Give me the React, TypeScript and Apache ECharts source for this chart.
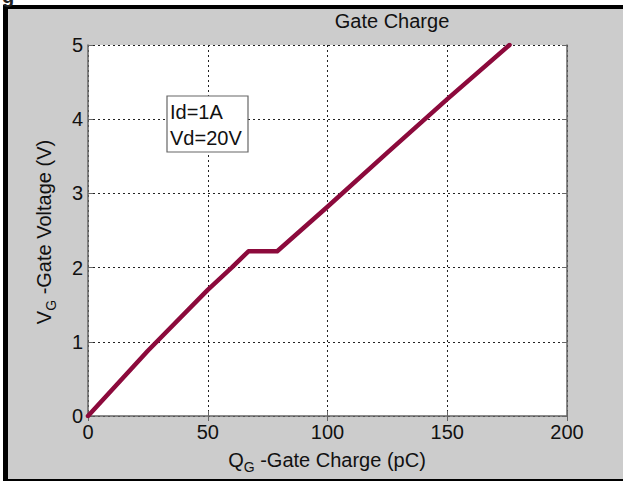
import React, { useEffect, useRef } from "react";
import * as echarts from "echarts";

const chargePC = [0, 25, 50, 60, 67, 79, 100, 125, 150, 176];
const gateVoltage = [0, 0.88, 1.7, 2.0, 2.22, 2.22, 2.82, 3.55, 4.27, 5.0];
const xTicks = [0, 200, 50];
const yTicks = [0, 5, 1];
const titleText = "Gate Charge";
const noteLines = ["Id=1A", "Vd=20V"];

const FONT = "Liberation Sans, Arial, sans-serif";
const FS = 20;

export default function App() {
  const ref = useRef<HTMLDivElement>(null);
  useEffect(() => {
    if (!ref.current) return;
    const chart = echarts.init(ref.current, undefined, { renderer: "svg" });
    const data = chargePC.map((x, i) => [x, gateVoltage[i]]);
    const gridLine = { show: true, lineStyle: { color: "#222", type: [2, 3], width: 1 } };
    chart.setOption({
      animation: false,
      backgroundColor: "#ffffff",
      grid: {
        left: 88,
        right: 56,
        top: 45,
        bottom: 66,
        show: true,
        backgroundColor: "#ffffff",
        borderWidth: 0,
      },
      xAxis: [
        {
          type: "value",
          min: xTicks[0],
          max: xTicks[1],
          interval: xTicks[2],
          position: "bottom",
          axisLine: { show: true, onZero: false, lineStyle: { color: "#666", width: 1.5 } },
          axisTick: { show: true, inside: true, length: 5, lineStyle: { color: "#666" } },
          axisLabel: { color: "#111", fontSize: FS, fontFamily: FONT, margin: 6 },
          splitLine: gridLine,
        },
        {
          type: "value",
          min: xTicks[0],
          max: xTicks[1],
          interval: xTicks[2],
          position: "top",
          axisLine: { show: false },
          axisTick: { show: true, inside: true, length: 5, lineStyle: { color: "#666" } },
          axisLabel: { show: false },
          splitLine: { show: false },
        },
      ],
      yAxis: [
        {
          type: "value",
          min: yTicks[0],
          max: yTicks[1],
          interval: yTicks[2],
          position: "left",
          axisLine: { show: true, onZero: false, lineStyle: { color: "#666", width: 1.5 } },
          axisTick: { show: true, inside: true, length: 5, lineStyle: { color: "#666" } },
          axisLabel: { color: "#111", fontSize: FS, fontFamily: FONT, margin: 5 },
          splitLine: gridLine,
        },
        {
          type: "value",
          min: yTicks[0],
          max: yTicks[1],
          interval: yTicks[2],
          position: "right",
          axisLine: { show: true, onZero: false, lineStyle: { color: "#666", width: 1.5 } },
          axisTick: { show: true, inside: true, length: 5, lineStyle: { color: "#666" } },
          axisLabel: { show: false },
          splitLine: { show: false },
        },
      ],
      series: [
        {
          type: "line",
          data,
          showSymbol: false,
          symbol: "none",
          lineStyle: { color: "#8c0a3c", width: 4.5, join: "round", cap: "round" },
          z: 5,
        },
      ],
      graphic: [
        { type: "rect", z: -10, shape: { x: 3, y: 5, width: 620, height: 476 }, style: { fill: "#000" } },
        { type: "rect", z: -9, shape: { x: 8, y: 9, width: 615, height: 470 }, style: { fill: "#cccccc" } },
        {
          type: "text",
          z: -8,
          x: 2,
          y: -14,
          style: { text: "g", fontSize: 20, fontWeight: "bold", fontFamily: FONT, fill: "#222" },
        },
        {
          type: "text",
          x: 392,
          y: 21,
          style: {
            text: titleText,
            fontSize: FS,
            fontFamily: FONT,
            fill: "#111",
            align: "center",
            verticalAlign: "middle",
          },
        },
        {
          type: "rect",
          z: 10,
          shape: { x: 167, y: 96, width: 81, height: 56 },
          style: { fill: "#fff", stroke: "#666", lineWidth: 1.2 },
        },
        {
          type: "text",
          z: 11,
          x: 170,
          y: 125,
          style: {
            text: noteLines.join("\n"),
            fontSize: FS,
            lineHeight: 26,
            fontFamily: FONT,
            fill: "#111",
            verticalAlign: "middle",
          },
        },
        {
          type: "text",
          x: 327,
          y: 460,
          style: {
            text: "{a|Q}{s|G}{a| -Gate Charge (pC)}",
            align: "center",
            verticalAlign: "middle",
            rich: {
              a: { fontSize: FS, fontFamily: FONT, fill: "#111", lineHeight: 28, verticalAlign: "middle" },
              s: { fontSize: 14, fontFamily: FONT, fill: "#111", lineHeight: 28, verticalAlign: "bottom" },
            },
          },
        },
        {
          type: "text",
          x: 44,
          y: 232,
          rotation: Math.PI / 2,
          style: {
            text: "{a|V}{s|G}{a| -Gate Voltage (V)}",
            align: "center",
            verticalAlign: "middle",
            rich: {
              a: { fontSize: FS, fontFamily: FONT, fill: "#111", lineHeight: 28, verticalAlign: "middle" },
              s: { fontSize: 14, fontFamily: FONT, fill: "#111", lineHeight: 28, verticalAlign: "bottom" },
            },
          },
        },
      ],
    });
    return () => chart.dispose();
  }, []);
  return (
    <div
      ref={ref}
      style={{ position: "fixed", left: 0, top: 0, width: 623, height: 482 }}
    />
  );
}
